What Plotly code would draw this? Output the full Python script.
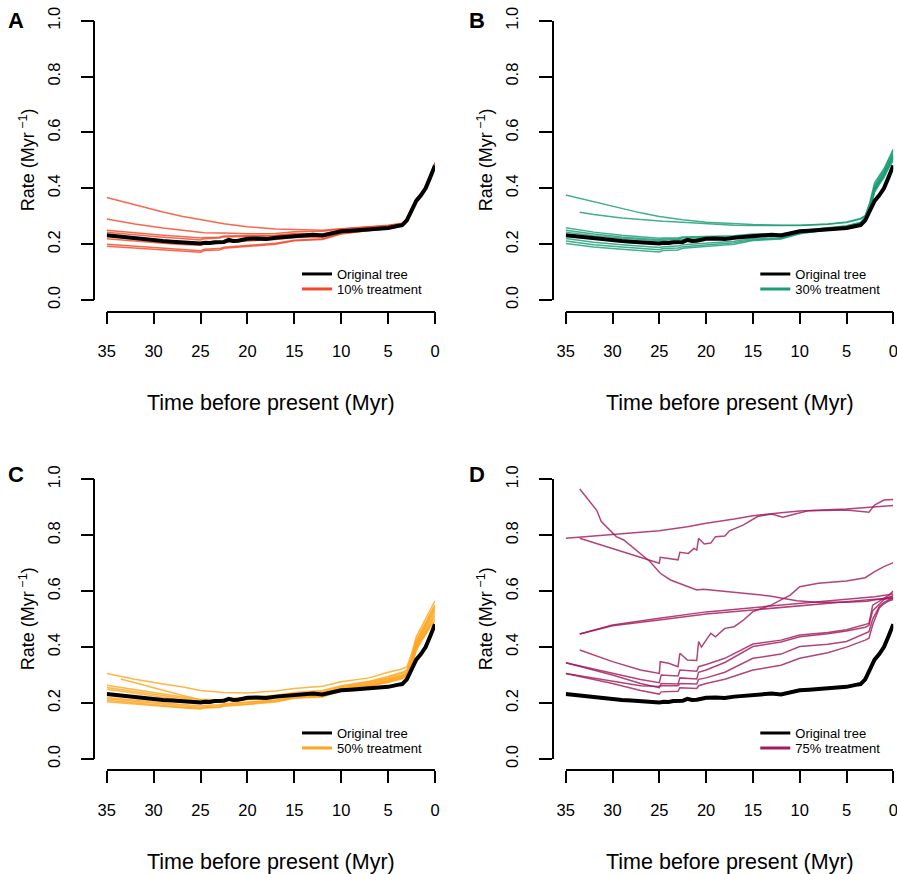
import plotly.graph_objects as go

W, H = 897, 874

# ---------------- data ----------------
BLACK_X = [35, 34, 33, 32, 31, 30, 29, 28, 27, 26, 25, 24.5, 24, 23.5, 23, 22.5, 22, 21.5, 21, 20.5, 20,
           19, 18, 17, 16, 15, 14, 13, 12, 11, 10, 9, 8, 7, 6, 5, 4, 3.5, 3, 2.5, 2, 1.5, 1, 0.5, 0]
BLACK_Y = [.232, .228, .224, .220, .216, .213, .211, .209, .207, .205, .202, .205, .204, .207, .209, .208,
           .215, .211, .212, .216, .219, .220, .218, .223, .226, .230, .233, .234, .231, .238, .246, .248,
           .250, .254, .256, .258, .265, .268, .285, .320, .355, .375, .400, .440, .482]

TX = [35, 32, 29, 27, 25, 24.6, 23, 22.5, 20, 17, 15, 12, 10, 7, 5, 3.5, 3, 2.5, 2, 1.5, 1, 0.5, 0]
TX_LATE = [33.5, 32, 29, 27, 25, 24.6, 23, 22.5, 20, 17, 15, 12, 10, 7, 5, 3.5, 3, 2.5, 2, 1.5, 1, 0.5, 0]

# Panel A : 10% treatment
A_LINES = [
    [.367, .340, .315, .300, .288, .285, .276, .273, .262, .254, .252, .250, .255, .262, .268, .275, .292, .328, .362, .382, .408, .448, .492],
    [.290, .272, .258, .250, .242, .241, .240, .240, .237, .238, .244, .246, .254, .260, .266, .274, .290, .326, .360, .380, .406, .446, .490],
    [.250, .240, .232, .227, .222, .224, .225, .229, .231, .232, .238, .236, .250, .258, .264, .272, .289, .325, .359, .379, .405, .445, .489],
    [.243, .233, .225, .220, .215, .219, .222, .226, .228, .229, .235, .234, .248, .257, .262, .271, .288, .324, .358, .378, .404, .444, .488],
    [.219, .210, .203, .199, .196, .200, .203, .207, .212, .217, .224, .226, .242, .252, .257, .269, .286, .322, .357, .377, .402, .442, .485],
    [.200, .192, .185, .180, .176, .182, .184, .189, .195, .203, .214, .219, .238, .250, .256, .268, .286, .321, .356, .376, .401, .441, .484],
    [.192, .185, .179, .175, .171, .177, .179, .185, .192, .200, .212, .217, .236, .249, .255, .267, .285, .320, .355, .375, .400, .440, .483],
]
A_STARTS = ["full"] * 7

# Panel B : 30% treatment
B_LINES = [
    [.376, .352, .328, .312, .299, .297, .290, .287, .278, .272, .270, .268, .268, .272, .279, .292, .302, .350, .420, .445, .470, .505, .540],
    [.314, .306, .294, .288, .283, .282, .279, .278, .272, .268, .267, .266, .267, .271, .277, .290, .300, .345, .410, .440, .465, .500, .535],
    [.259, .243, .232, .226, .221, .222, .222, .226, .228, .230, .236, .236, .248, .258, .266, .278, .296, .340, .405, .432, .458, .492, .525],
    [.250, .236, .226, .221, .216, .218, .219, .223, .225, .227, .233, .233, .246, .256, .264, .276, .294, .336, .400, .428, .455, .488, .520],
    [.243, .230, .221, .216, .212, .214, .216, .219, .222, .225, .231, .232, .245, .255, .263, .275, .292, .332, .396, .424, .450, .484, .515],
    [.220, .207, .198, .193, .188, .191, .193, .198, .203, .210, .220, .223, .240, .252, .262, .274, .291, .330, .393, .420, .446, .480, .510],
    [.211, .198, .190, .185, .180, .184, .186, .191, .197, .205, .216, .220, .238, .251, .261, .273, .290, .328, .390, .417, .442, .476, .505],
    [.202, .190, .182, .177, .172, .177, .179, .185, .191, .200, .213, .218, .237, .250, .260, .272, .289, .325, .386, .414, .438, .472, .500],
]
B_STARTS = ["full", "late", "full", "full", "full", "full", "full", "full"]

# Panel C : 50% treatment
C_LINES = [
    [.306, .285, .268, .258, .245, .244, .240, .238, .236, .243, .252, .260, .276, .290, .310, .322, .330, .375, .437, .470, .500, .535, .565],
    [.286, .272, .245, .228, .212, .213, .212, .215, .220, .228, .238, .245, .262, .278, .295, .310, .318, .362, .425, .458, .488, .522, .552],
    [.264, .248, .232, .222, .212, .212, .210, .214, .218, .224, .234, .240, .258, .275, .290, .305, .312, .356, .418, .452, .480, .515, .545],
    [.256, .242, .226, .217, .206, .207, .207, .211, .215, .220, .231, .236, .255, .272, .287, .300, .308, .350, .412, .446, .474, .508, .538],
    [.249, .235, .220, .212, .202, .203, .203, .207, .211, .217, .228, .233, .252, .268, .283, .297, .305, .345, .406, .440, .468, .500, .530],
    [.220, .210, .201, .195, .190, .192, .194, .198, .204, .212, .224, .228, .249, .265, .280, .294, .302, .340, .400, .434, .460, .492, .520],
    [.215, .205, .196, .190, .185, .188, .190, .195, .201, .209, .221, .226, .247, .263, .277, .291, .300, .336, .396, .428, .454, .485, .510],
    [.210, .200, .191, .185, .181, .184, .186, .191, .197, .206, .219, .224, .245, .261, .275, .289, .298, .332, .392, .423, .448, .478, .500],
    [.205, .196, .188, .183, .179, .182, .184, .189, .195, .204, .217, .222, .244, .260, .273, .287, .296, .328, .388, .418, .443, .472, .492],
]
C_STARTS = ["full", "late", "full", "full", "full", "full", "full", "full", "full"]

# Panel D : 75% treatment (irregular time grids)
D1_X = [33.5, 31.7, 31.2, 30.3, 29.6, 28.8, 27.5, 26, 24.9, 23.8, 22.4, 21, 20.3, 18.9, 16, 13.2, 11.7, 10.3, 8.2, 5, 2.8, 1.8, 0]
D1_Y = [.965, .890, .849, .819, .795, .783, .747, .706, .664, .640, .622, .604, .607, .602, .592, .583, .574, .566, .560, .560, .564, .570, .580]
D2_X = [35, 30, 25, 22, 20, 17, 15, 12, 10, 5, 0]
D2_Y = [.789, .803, .816, .830, .843, .858, .870, .880, .887, .894, .906]
D3_X = [33.5, 30, 27, 25, 24.9, 23, 22.8, 21.9, 21.3, 21, 20.8, 20.2, 19.5, 19, 18, 17.5, 16, 14.5, 13, 11.8, 10.5, 9, 5, 3, 2.6, 2, 1, 0]
D3_Y = [.789, .753, .723, .700, .721, .712, .739, .735, .753, .747, .789, .769, .772, .795, .797, .816, .837, .867, .876, .864, .876, .888, .890, .882, .882, .908, .926, .928]
D4_X = [33.5, 30, 25, 20, 15, 10, 5, 2, 0]
D4_Y = [.447, .479, .503, .526, .541, .557, .571, .580, .590]
D5_X = [33.5, 30, 25, 20, 15, 10, 5, 2, 0]
D5_Y = [.447, .476, .497, .518, .533, .548, .563, .571, .574]
D6_X = [33.5, 30, 27, 25, 24.9, 24, 23, 22.8, 22, 21, 20.8, 20.5, 20, 19.5, 19, 18, 17, 16, 15, 14, 13, 12, 11, 10, 8, 5, 3, 2, 1, 0]
D6_Y = [.390, .348, .318, .306, .348, .342, .330, .378, .354, .352, .420, .400, .425, .449, .437, .467, .473, .497, .527, .539, .551, .569, .586, .616, .628, .636, .648, .670, .688, .702]
DL_X = [35, 30, 27, 25, 24.8, 23, 22.8, 21, 20.8, 20, 18, 15, 12, 10, 7, 5, 3, 2.6, 2.2, 1.5, 1, 0.5, 0]
D7_Y = [.344, .306, .284, .273, .300, .297, .318, .314, .330, .338, .360, .411, .425, .443, .452, .462, .479, .485, .550, .565, .575, .585, .600]
D8_Y = [.344, .300, .270, .255, .270, .268, .290, .286, .310, .318, .345, .402, .418, .437, .448, .458, .471, .478, .530, .555, .570, .578, .585]
D9_Y = [.306, .280, .262, .259, .262, .262, .270, .268, .285, .290, .310, .360, .375, .402, .410, .420, .449, .455, .500, .545, .560, .570, .578]
D10_Y = [.306, .270, .245, .232, .240, .242, .255, .252, .262, .270, .285, .318, .335, .360, .380, .400, .425, .432, .480, .540, .555, .565, .570]

X_TICKS = [35, 30, 25, 20, 15, 10, 5, 0]
Y_TICKS = [0, 0.2, 0.4, 0.6, 0.8, 1.0]
Y_TICKTEXT = ["0.0", "0.2", "0.4", "0.6", "0.8", "1.0"]
PANEL_LETTERS = ["A", "B", "C", "D"]
TREAT_NAMES = ["10% treatment", "30% treatment", "50% treatment", "75% treatment"]
TREAT_COLORS = ["#F5482A", "#1B9E77", "#FFA51F", "#A21C5E"]

# ---------------- layout geometry (pixels) ----------------
FONT = "Liberation Sans, Arial, Helvetica, sans-serif"
panels = [
    dict(x0=106.7, x1=435.0, ytop=20.7, ybot=300.0, yaxis_x=94.3, xaxis_y=311.7, ytitle_x=27, xtitle_y=403),
    dict(x0=565.7, x1=893.3, ytop=20.7, ybot=300.0, yaxis_x=552.7, xaxis_y=311.7, ytitle_x=485, xtitle_y=403),
    dict(x0=106.7, x1=435.0, ytop=479.3, ybot=759.0, yaxis_x=94.3, xaxis_y=770.0, ytitle_x=27, xtitle_y=862),
    dict(x0=565.7, x1=893.3, ytop=479.3, ybot=759.0, yaxis_x=552.7, xaxis_y=770.0, ytitle_x=485, xtitle_y=862),
]
letters_pos = [(16, 21), (477, 21), (16, 474), (477, 474)]
# legend rows (pixel y of the entry centres), measured from the panel's y=0 line
LEG_ROW_OFFSETS = [-26, -11]


def px(x):
    return x / W


def py(y):
    return 1 - y / H


fig = go.Figure()

line_sets = []
for lines, starts in [(A_LINES, A_STARTS), (B_LINES, B_STARTS), (C_LINES, C_STARTS)]:
    line_sets.append([(TX if s == "full" else TX_LATE, v) for v, s in zip(lines, starts)])
line_sets.append([(D1_X, D1_Y), (D2_X, D2_Y), (D3_X, D3_Y), (D4_X, D4_Y), (D5_X, D5_Y), (D6_X, D6_Y),
                  (DL_X, D7_Y), (DL_X, D8_Y), (DL_X, D9_Y), (DL_X, D10_Y)])

layout = dict(
    width=W, height=H, margin=dict(l=0, r=0, t=0, b=0, pad=0, autoexpand=False),
    paper_bgcolor="white", plot_bgcolor="white",
    font=dict(family=FONT, color="black"),
    annotations=[],
)

for i, p in enumerate(panels):
    k = i + 1
    sfx = "" if k == 1 else str(k)
    xa, ya = "x" + sfx, "y" + sfx
    color = TREAT_COLORS[i]
    leg_names = ["legend" if i == 0 else "legend%d" % (2 * i + 1), "legend%d" % (2 * i + 2)]

    for xs, ys in line_sets[i]:
        fig.add_trace(go.Scatter(x=xs, y=ys, mode="lines", xaxis=xa, yaxis=ya,
                                 line=dict(color=color, width=1.5), opacity=0.82,
                                 showlegend=False, hoverinfo="skip"))
    fig.add_trace(go.Scatter(x=BLACK_X, y=BLACK_Y, mode="lines", xaxis=xa, yaxis=ya,
                             line=dict(color="black", width=4), showlegend=False, hoverinfo="skip"))
    # legend entries (one legend per row to get R-like tight spacing)
    fig.add_trace(go.Scatter(x=[None], y=[None], mode="lines", xaxis=xa, yaxis=ya,
                             line=dict(color="black", width=3), name="Original tree",
                             legend=leg_names[0], showlegend=True))
    fig.add_trace(go.Scatter(x=[None], y=[None], mode="lines", xaxis=xa, yaxis=ya,
                             line=dict(color=color, width=3), name=TREAT_NAMES[i],
                             legend=leg_names[1], showlegend=True))

    layout["xaxis" + sfx] = dict(
        domain=[px(p["x0"]), px(p["x1"])], range=[35, 0], anchor="free", position=py(p["xaxis_y"]),
        tickmode="array", tickvals=X_TICKS, ticktext=[str(t) for t in X_TICKS],
        ticks="outside", ticklen=12, tickwidth=1.5, tickcolor="black",
        showline=True, linecolor="black", linewidth=1.5, showgrid=False, zeroline=False,
        tickfont=dict(size=16.5, family=FONT, color="black"), ticklabelstandoff=13,
        ticklabeloverflow="allow", automargin=False, fixedrange=True,
    )
    layout["yaxis" + sfx] = dict(
        domain=[py(p["ybot"]), py(p["ytop"])], range=[0, 1], anchor="free", position=px(p["yaxis_x"]),
        tickmode="array", tickvals=Y_TICKS, ticktext=Y_TICKTEXT, tickangle=-90,
        ticks="outside", ticklen=13, tickwidth=1.5, tickcolor="black",
        showline=True, linecolor="black", linewidth=1.5, showgrid=False, zeroline=False,
        tickfont=dict(size=16.5, family=FONT, color="black"), ticklabelstandoff=14,
        ticklabeloverflow="allow", automargin=False, fixedrange=True,
    )
    for r, ln in enumerate(leg_names):
        row_y = p["ybot"] + LEG_ROW_OFFSETS[r]
        layout[ln] = dict(
            x=px(p["x1"] - 138), y=py(row_y), xanchor="left", yanchor="middle",
            bgcolor="rgba(0,0,0,0)", borderwidth=0, font=dict(size=13, family=FONT, color="black"),
            tracegroupgap=0,
        )
    layout["annotations"].append(dict(
        text="Time before present (Myr)", x=px((p["x0"] + p["x1"]) / 2), y=py(p["xtitle_y"]),
        xref="paper", yref="paper", showarrow=False, xanchor="center", yanchor="middle",
        font=dict(size=21.5, family=FONT, color="black")))
    layout["annotations"].append(dict(
        text="Rate (Myr<sup> −1</sup>)", x=px(p["ytitle_x"]), y=py((p["ytop"] + p["ybot"]) / 2),
        xref="paper", yref="paper", showarrow=False, xanchor="center", yanchor="middle", textangle=-90,
        font=dict(size=18, family=FONT, color="black")))
    lx, ly = letters_pos[i]
    layout["annotations"].append(dict(
        text="<b>%s</b>" % PANEL_LETTERS[i], x=px(lx), y=py(ly),
        xref="paper", yref="paper", showarrow=False, xanchor="center", yanchor="middle",
        font=dict(size=22, family=FONT, color="black")))

fig.update_layout(**layout)
fig.write_html("out.html")
